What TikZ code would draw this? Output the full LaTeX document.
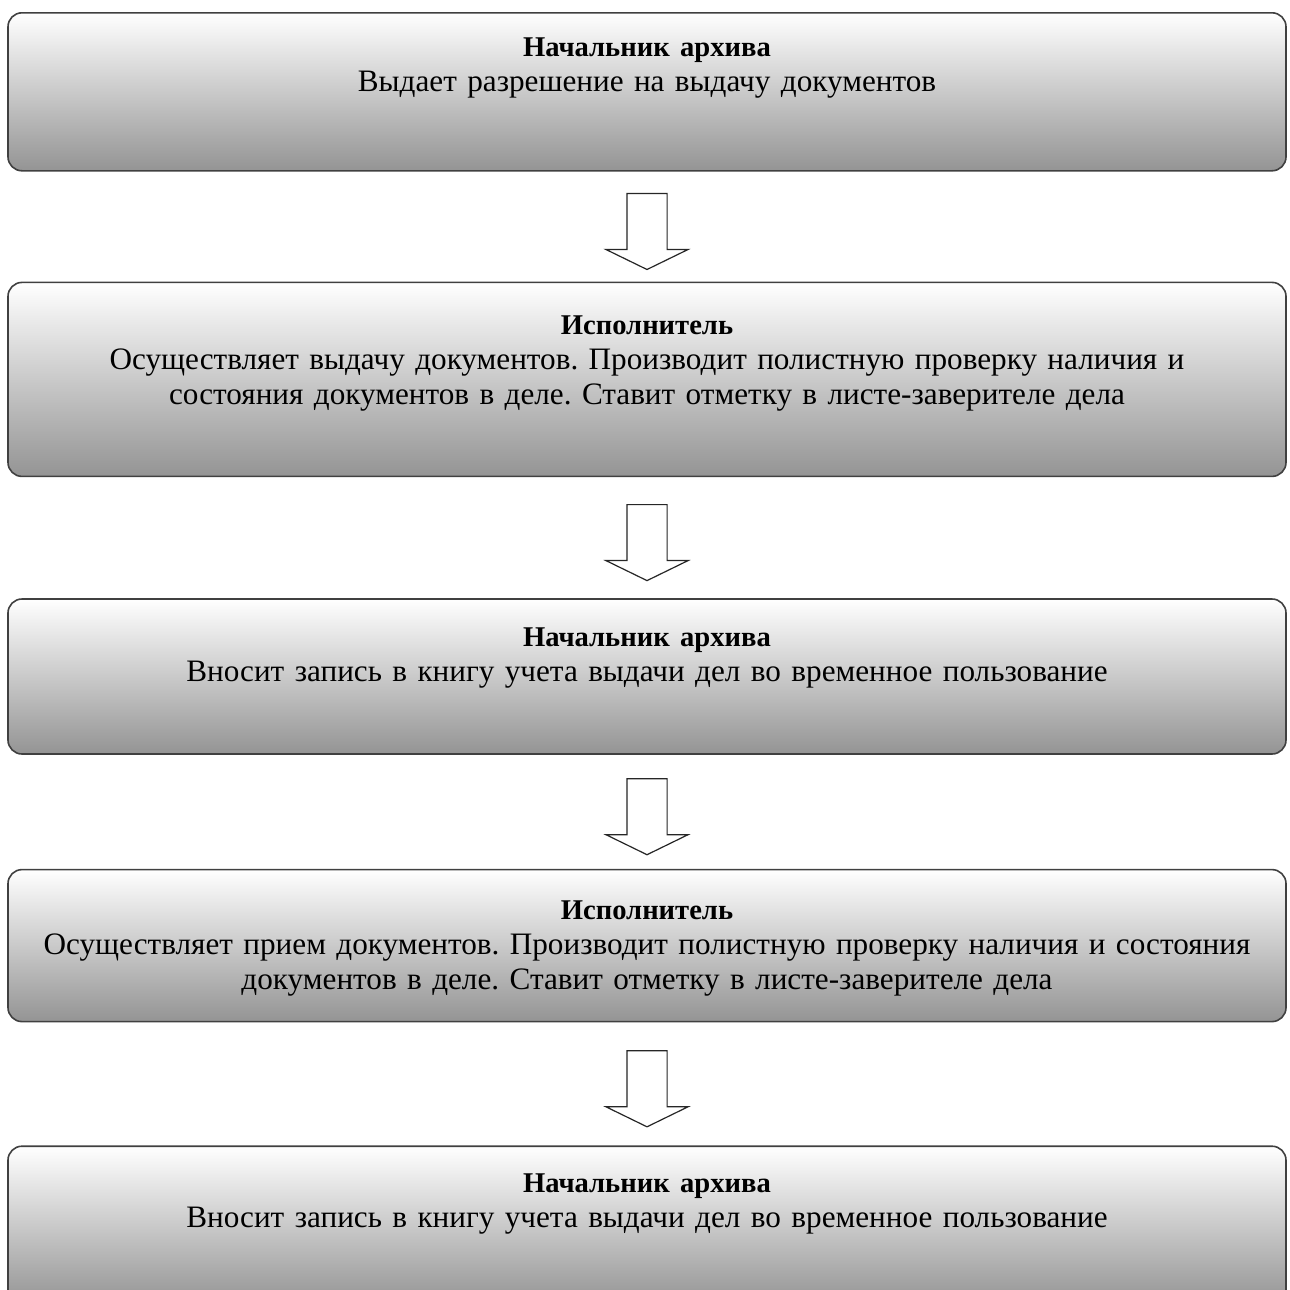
\documentclass[tikz,border=0pt]{standalone}
\usepackage{fontspec}
\setmainfont{Liberation Serif}
\usetikzlibrary{positioning,shapes.arrows,calc}
\newcommand{\rolename}[1]{{\fontsize{14.3}{17.5}\selectfont\bfseries #1}}
\tikzset{stagebox/.style={
    rectangle, rounded corners=7pt,
    draw=black!75, line width=0.8pt,
    top color=white, bottom color=black!42,
    text width=636pt, align=center,
    inner xsep=1.5pt, inner ysep=0pt
  }
}
\tikzset{downarrow/.style={
    single arrow, draw=black!85, fill=white, line width=0.6pt,
    shape border rotate=270, inner sep=9.75pt,
    minimum height=38pt, minimum width=41pt,
    single arrow head extend=10.5pt,
    single arrow tip angle=128
  }
}

\begin{document}
\begin{tikzpicture}[font=\fontsize{15.6}{17.5}\selectfont]
   \frenchspacing
   \useasboundingbox (0,0) rectangle (645pt,-645pt);
   \node[stagebox, anchor=north, text height=22pt, text depth=57pt] (chief1) at (323.5pt,-6pt)
      {\rolename{Начальник архива}\\Выдает разрешение на выдачу документов};
   \node[stagebox, below=55pt of chief1, text height=26pt, text depth=71pt] (clerk1)
      {\rolename{Исполнитель}\\Осуществляет выдачу документов. Производит полистную проверку наличия и\\состояния документов в деле. Ставит отметку в листе-заверителе дела};
   \node[stagebox, below=60.5pt of clerk1, text height=23.5pt, text depth=54pt] (chief2)
      {\rolename{Начальник архива}\\Вносит запись в книгу учета выдачи дел во временное пользование};
   \node[stagebox, below=57pt of chief2, text height=25pt, text depth=51pt] (clerk2)
      {\rolename{Исполнитель}\\Осуществляет прием документов. Производит полистную проверку наличия и состояния\\документов в деле. Ставит отметку в листе-заверителе дела};
   \node[stagebox, below=61.5pt of clerk2, text height=23pt, text depth=56pt] (chief3)
      {\rolename{Начальник архива}\\Вносит запись в книгу учета выдачи дел во временное пользование};
   \node[downarrow] (a1) at ($(chief1.south)!0.5!(clerk1.north)$) {};
   \node[downarrow] (a2) at ($(clerk1.south)!0.5!(chief2.north)$) {};
   \node[downarrow] (a3) at ($(chief2.south)!0.5!(clerk2.north)$) {};
   \node[downarrow] (a4) at ($(clerk2.south)!0.5!(chief3.north)$) {};
\end{tikzpicture}
\end{document}
